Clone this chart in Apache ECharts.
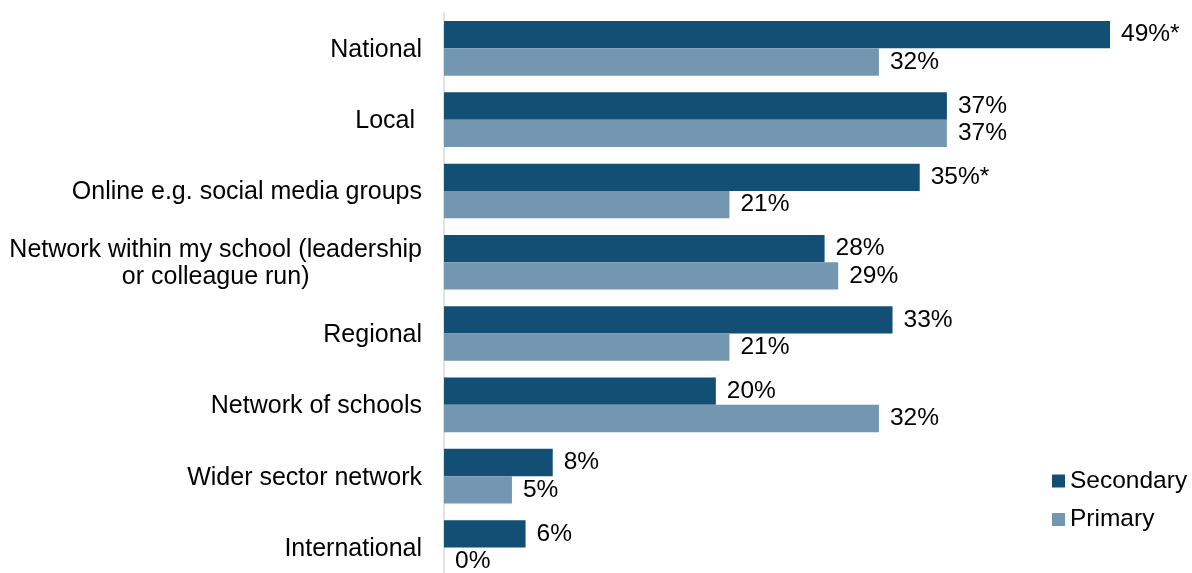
<!DOCTYPE html>
<html>
<head>
<meta charset="utf-8">
<script src="https://cdn.jsdelivr.net/npm/echarts@6/dist/echarts.min.js"></script>
<style>
  html, body { margin: 0; padding: 0; background: #fff; }
  #chart { width: 1192px; height: 573px; }
</style>
</head>
<body>
<div id="chart"></div>
<script>
// Network types, top to bottom
const categories = [
  'National',
  'Local ',
  'Online e.g. social media groups',
  'Network within my school (leadership\nor colleague run)',
  'Regional',
  'Network of schools',
  'Wider sector network',
  'International'
];
const seriesNames = ['Secondary', 'Primary'];
const secondaryValues = [49, 37, 35, 28, 33, 20, 8, 6];
const primaryValues = [32, 37, 21, 29, 21, 32, 5, 0];
// Significant difference marker (asterisk) on the Secondary value
const secondaryStars = [true, false, true, false, false, false, false, false];

const FONT = '"Liberation Sans", Arial, sans-serif';
const FS = 24.5;
const AXIS_FS = 25;
const TEXT = '#000000';
const DARK = '#134F74';
const LIGHT = '#7397B0';

const chart = echarts.init(document.getElementById('chart'), null, { renderer: 'canvas' });

function labelFormatter(stars) {
  return function (p) {
    return p.value + '%' + (stars && stars[p.dataIndex] ? '*' : '');
  };
}

const option = {
  animation: false,
  backgroundColor: '#ffffff',
  textStyle: { fontFamily: FONT },
  grid: {
    left: 444,
    top: 12.7,
    width: 679.6,
    height: 570.4,
    containLabel: false,
    outerBoundsMode: 'none'
  },
  legend: {
    orient: 'vertical',
    left: 1047,
    top: 463.5,
    itemWidth: 13,
    itemHeight: 13,
    itemGap: 13.5,
    icon: 'rect',
    selectedMode: false,
    data: seriesNames,
    textStyle: { fontFamily: FONT, fontSize: FS, color: TEXT }
  },
  xAxis: {
    type: 'value',
    min: 0,
    max: 50,
    show: false
  },
  yAxis: {
    type: 'category',
    inverse: true,
    data: categories,
    axisTick: { show: false },
    axisLine: { show: true, lineStyle: { color: '#d9d9d9', width: 1.5 } },
    splitLine: { show: false },
    axisLabel: {
      margin: 22,
      color: TEXT,
      fontFamily: FONT,
      fontSize: AXIS_FS,
      lineHeight: 27,
      align: 'right',
      padding: [3, 0, 0, 0],
      formatter: function (v) {
        const lines = v.split('\n');
        if (lines.length === 1) return v;
        return lines.map(function (l) { return '{c|' + l + '}'; }).join('\n');
      },
      rich: {
        c: { align: 'center', fontFamily: FONT, fontSize: AXIS_FS, lineHeight: 27, color: TEXT }
      }
    }
  },
  series: [
    {
      name: seriesNames[0],
      type: 'bar',
      data: secondaryValues,
      barGap: '0%',
      barCategoryGap: '23.4%',
      itemStyle: { color: DARK },
      label: {
        show: true,
        position: 'right',
        distance: 11,
        color: TEXT,
        fontFamily: FONT,
        fontSize: FS,
        formatter: labelFormatter(secondaryStars)
      }
    },
    {
      name: seriesNames[1],
      type: 'bar',
      data: primaryValues,
      barGap: '0%',
      barCategoryGap: '23.4%',
      itemStyle: { color: LIGHT },
      label: {
        show: true,
        position: 'right',
        distance: 11,
        color: TEXT,
        fontFamily: FONT,
        fontSize: FS,
        formatter: labelFormatter(null)
      }
    }
  ]
};

chart.setOption(option);
</script>
</body>
</html>
